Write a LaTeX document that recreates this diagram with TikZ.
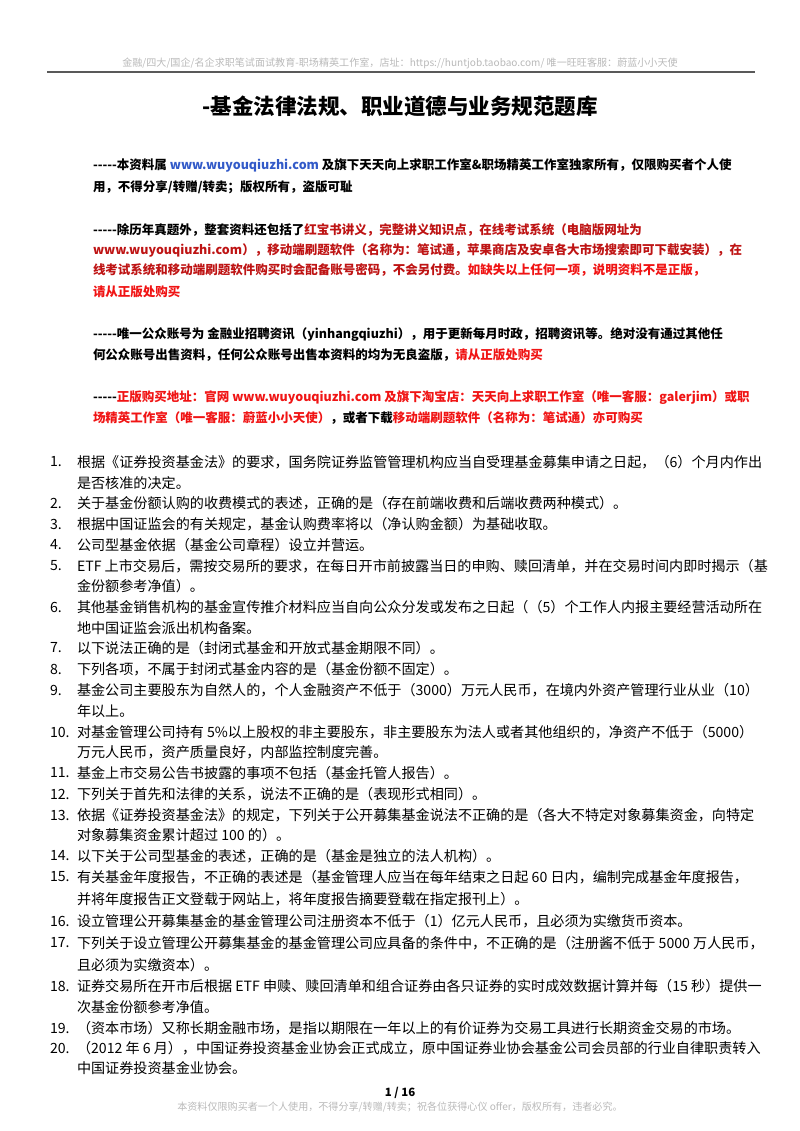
\documentclass[tikz,border=0pt]{standalone}
\usepackage{fontspec}
\setmainfont{Noto Sans CJK SC}
\usetikzlibrary{positioning}
\definecolor{linkblue}{RGB}{50,90,200}
\definecolor{darkred}{RGB}{190,20,20}
\definecolor{warnred}{RGB}{240,20,20}
\definecolor{faint}{RGB}{185,185,185}
\newcommand\darkhl[1]{\textcolor{darkred}{#1}}
\newcommand\warnhl[1]{\textcolor{warnred}{#1}}
\newcommand\leaddash{-{}-{}-{}-{}-}
\begin{document}
\begin{tikzpicture}[
  x=0.7441pt, y=-0.7441pt,
  every node/.style={inner sep=0pt, outer sep=0pt, anchor=west},
  hdr/.style={font=\fontsize{7.5}{9}\selectfont, text=faint, anchor=center},
  ttl/.style={font=\fontsize{16}{19}\selectfont\bfseries, anchor=center},
  intro/.style={font=\fontsize{9.3}{11}\selectfont\bfseries},
  num/.style={font=\fontsize{10.5}{12}\selectfont},
  item/.style={font=\fontsize{10.5}{12}\selectfont}]

  \useasboundingbox (0,0) rectangle (800,1131);

  % header and title
  \node[hdr] (head) at (400,63) {金融/四大/国企/名企求职笔试面试教育-职场精英工作室，店址：https://huntjob.taobao.com/ 唯一旺旺客服：蔚蓝小小天使};
  \coordinate (ruleL) at (47,72);
  \coordinate (ruleR) at (755,72);
  \draw[gray!70!black, line width=0.8pt] (ruleL) -- (ruleR);
  \node[ttl] (title) at (400,106) {-基金法律法规、职业道德与业务规范题库};

  % notice paragraphs
  \node[intro] (p1a) at (93,165) {\leaddash 本资料属 \textcolor{linkblue}{www.wuyouqiuzhi.com} 及旗下天天向上求职工作室\&职场精英工作室独家所有，仅限购买者个人使};
  \node[intro] (p1b) at (93,187) {用，不得分享/转赠/转卖；版权所有，盗版可耻};
  \node[intro] (p2a) at (93,230) {\leaddash 除历年真题外，整套资料还包括了\darkhl{红宝书讲义，完整讲义知识点，在线考试系统（电脑版网址为}};
  \node[intro] (p2b) at (93,250) {\darkhl{www.wuyouqiuzhi.com），移动端刷题软件（名称为：笔试通，苹果商店及安卓各大市场搜索即可下载安装），在}};
  \node[intro] (p2c) at (93,270) {\darkhl{线考试系统和移动端刷题软件购买时会配备账号密码，不会另付费。}\warnhl{如缺失以上任何一项，说明资料不是正版，}};
  \node[intro] (p2d) at (93,292) {\warnhl{请从正版处购买}};
  \node[intro] (p3a) at (93,335) {\leaddash 唯一公众账号为 金融业招聘资讯（yinhangqiuzhi），用于更新每月时政，招聘资讯等。绝对没有通过其他任};
  \node[intro] (p3b) at (93,355) {何公众账号出售资料，任何公众账号出售本资料的均为无良盗版，\warnhl{请从正版处购买}};
  \node[intro] (p4a) at (93,398) {\leaddash\warnhl{正版购买地址：官网 www.wuyouqiuzhi.com 及旗下淘宝店：天天向上求职工作室（唯一客服：galerjim）或职}};
  \node[intro] (p4b) at (93,418) {\warnhl{场精英工作室（唯一客服：蔚蓝小小天使）}，或者下载\warnhl{移动端刷题软件（名称为：笔试通）亦可购买}};

  % questions
  \node[num] (n1) at (50,462) {1.};
  \node[item] (q1a) at (77,462) {根据《证券投资基金法》的要求，国务院证券监管管理机构应当自受理基金募集申请之日起，（6）个月内作出};
  \node[item] (q1b) at (77,483) {是否核准的决定。};
  \node[num] (n2) at (50,503) {2.};
  \node[item] (q2) at (77,503) {关于基金份额认购的收费模式的表述，正确的是（存在前端收费和后端收费两种模式）。};
  \node[num] (n3) at (50,524) {3.};
  \node[item] (q3) at (77,524) {根据中国证监会的有关规定，基金认购费率将以（净认购金额）为基础收取。};
  \node[num] (n4) at (50,545) {4.};
  \node[item] (q4) at (77,545) {公司型基金依据（基金公司章程）设立并营运。};
  \node[num] (n5) at (50,566) {5.};
  \node[item] (q5a) at (77,566) {ETF 上市交易后，需按交易所的要求，在每日开市前披露当日的申购、赎回清单，并在交易时间内即时揭示（基};
  \node[item] (q5b) at (77,586) {金份额参考净值）。};
  \node[num] (n6) at (50,607) {6.};
  \node[item] (q6a) at (77,607) {其他基金销售机构的基金宣传推介材料应当自向公众分发或发布之日起（（5）个工作人内报主要经营活动所在};
  \node[item] (q6b) at (77,628) {地中国证监会派出机构备案。};
  \node[num] (n7) at (50,648) {7.};
  \node[item] (q7) at (77,648) {以下说法正确的是（封闭式基金和开放式基金期限不同）。};
  \node[num] (n8) at (50,669) {8.};
  \node[item] (q8) at (77,669) {下列各项，不属于封闭式基金内容的是（基金份额不固定）。};
  \node[num] (n9) at (50,690) {9.};
  \node[item] (q9a) at (77,690) {基金公司主要股东为自然人的，个人金融资产不低于（3000）万元人民币，在境内外资产管理行业从业（10）};
  \node[item] (q9b) at (77,711) {年以上。};
  \node[num] (n10) at (50,732) {10.};
  \node[item] (q10a) at (77,732) {对基金管理公司持有 5\%以上股权的非主要股东，非主要股东为法人或者其他组织的，净资产不低于（5000）};
  \node[item] (q10b) at (77,752) {万元人民币，资产质量良好，内部监控制度完善。};
  \node[num] (n11) at (50,773) {11.};
  \node[item] (q11) at (77,773) {基金上市交易公告书披露的事项不包括（基金托管人报告）。};
  \node[num] (n12) at (50,794) {12.};
  \node[item] (q12) at (77,794) {下列关于首先和法律的关系，说法不正确的是（表现形式相同）。};
  \node[num] (n13) at (50,815) {13.};
  \node[item] (q13a) at (77,815) {依据《证券投资基金法》的规定，下列关于公开募集基金说法不正确的是（各大不特定对象募集资金，向特定};
  \node[item] (q13b) at (77,835) {对象募集资金累计超过 100 的）。};
  \node[num] (n14) at (50,856) {14.};
  \node[item] (q14) at (77,856) {以下关于公司型基金的表述，正确的是（基金是独立的法人机构）。};
  \node[num] (n15) at (50,877) {15.};
  \node[item] (q15a) at (77,877) {有关基金年度报告，不正确的表述是（基金管理人应当在每年结束之日起 60 日内，编制完成基金年度报告，};
  \node[item] (q15b) at (77,899) {并将年度报告正文登载于网站上，将年度报告摘要登载在指定报刊上）。};
  \node[num] (n16) at (50,921) {16.};
  \node[item] (q16) at (77,921) {设立管理公开募集基金的基金管理公司注册资本不低于（1）亿元人民币，且必须为实缴货币资本。};
  \node[num] (n17) at (50,943) {17.};
  \node[item] (q17a) at (77,943) {下列关于设立管理公开募集基金的基金管理公司应具备的条件中，不正确的是（注册酱不低于 5000 万人民币，};
  \node[item] (q17b) at (77,965) {且必须为实缴资本）。};
  \node[num] (n18) at (50,986) {18.};
  \node[item] (q18a) at (77,986) {证券交易所在开市后根据 ETF 申赎、赎回清单和组合证券由各只证券的实时成效数据计算并每（15 秒）提供一};
  \node[item] (q18b) at (77,1007) {次基金份额参考净值。};
  \node[num] (n19) at (50,1028) {19.};
  \node[item] (q19) at (77,1028) {（资本市场）又称长期金融市场，是指以期限在一年以上的有价证券为交易工具进行长期资金交易的市场。};
  \node[num] (n20) at (50,1048) {20.};
  \node[item] (q20a) at (77,1048) {（2012 年 6 月），中国证券投资基金业协会正式成立，原中国证券业协会基金公司会员部的行业自律职责转入};
  \node[item] (q20b) at (77,1068) {中国证券投资基金业协会。};

  % footer
  \node[anchor=center, font=\fontsize{8.5}{10}\selectfont\bfseries] (page) at (400,1093) {1 / 16};
  \node[hdr] (foot) at (400,1107) {本资料仅限购买者一个人使用，不得分享/转赠/转卖；祝各位获得心仪 offer，版权所有，违者必究。};
\end{tikzpicture}
\end{document}
